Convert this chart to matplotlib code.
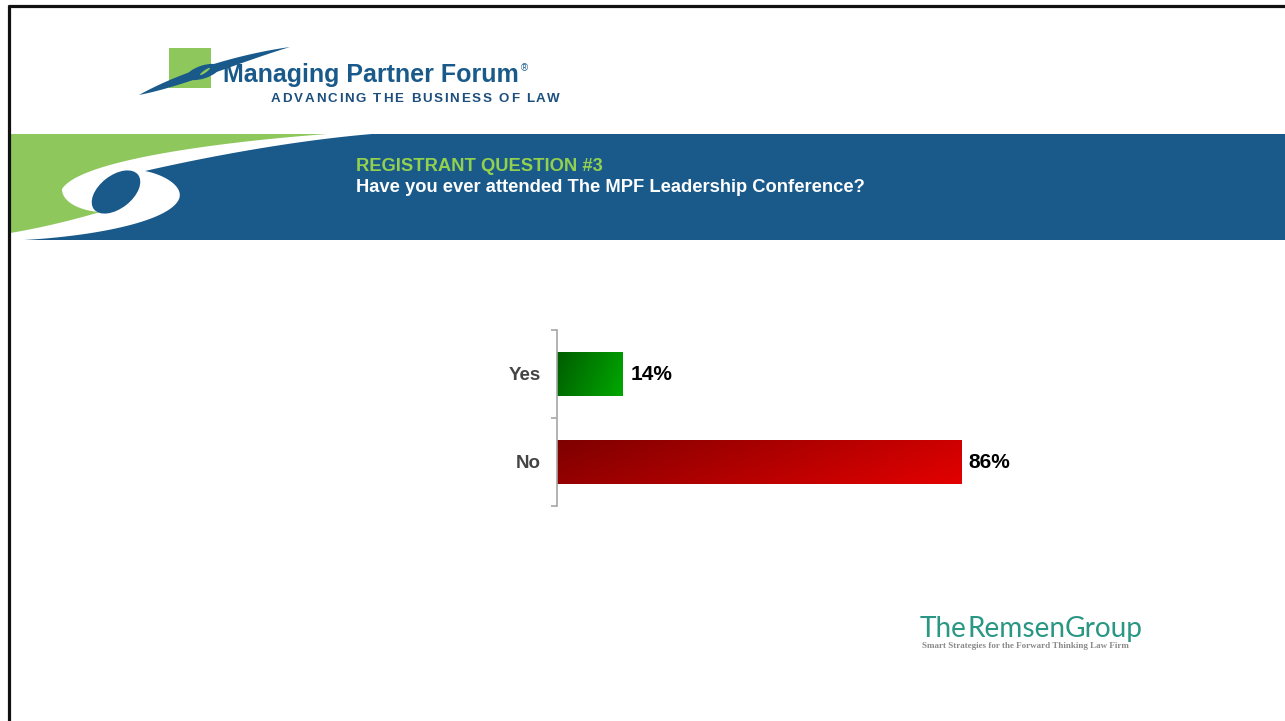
import numpy as np
import matplotlib
matplotlib.use("Agg")
import matplotlib.pyplot as plt
from matplotlib.colors import LinearSegmentedColormap
from matplotlib.patches import Polygon, Rectangle, Ellipse
from matplotlib.font_manager import FontProperties, findfont, get_font
from matplotlib.ft2font import LOAD_NO_HINTING

plt.rcParams['font.family'] = ['Liberation Sans', 'DejaVu Sans']

# ---- survey data ----
categories = ['Yes', 'No']
percent = [14, 86]
bar_gradients = [('#005c00', '#00a800'), ('#7e0000', '#e30000')]

question_tag = 'REGISTRANT QUESTION #3'
question_text = 'Have you ever attended The MPF Leadership Conference?'

W, H = 1285, 721
BLUE = '#195a8a'
LIME = '#8ec85c'

fig = plt.figure(figsize=(W / 100, H / 100), dpi=100)
fig.patch.set_facecolor('white')

# Full-slide canvas in pixel units (y grows downward)
bg = fig.add_axes([0, 0, 1, 1], zorder=0)
bg.set_xlim(0, W)
bg.set_ylim(H, 0)
bg.axis('off')


def cubic(p0, p1, p2, p3, n=40):
    t = np.linspace(0, 1, n)[:, None]
    p0, p1, p2, p3 = map(np.asarray, (p0, p1, p2, p3))
    return (1 - t) ** 3 * p0 + 3 * (1 - t) ** 2 * t * p1 + 3 * (1 - t) * t ** 2 * p2 + t ** 3 * p3


def advances(s, fp):
    font = get_font(findfont(fp))
    font.set_size(fp.get_size_in_points(), 100)
    out = []
    for ch in s:
        g = font.load_char(ord(ch), flags=LOAD_NO_HINTING)
        out.append(g.linearHoriAdvance / 65536)
    return np.array(out)


def fit_size(s, target_px, **fpkw):
    fp = FontProperties(size=10, **fpkw)
    return 10 * target_px / advances(s, fp).sum()


def tracked(x0, y, s, width_px, size, color, **fpkw):
    fp = FontProperties(size=size, **fpkw)
    adv = advances(s, fp)
    track = (width_px - adv.sum()) / (len(s) - 1)
    x = x0
    for ch, a in zip(s, adv):
        if ch != ' ':
            bg.text(x, y, ch, fontproperties=fp, color=color, ha='left', va='baseline')
        x += a + track


# ---- slide frame ----
bg.plot([8, W], [5.5, 5.5], color='#111111', lw=2.3, solid_capstyle='butt', zorder=10)
bg.plot([9, 9], [5, H], color='#111111', lw=2.3, solid_capstyle='butt', zorder=10)

# ---- top logo ----
bg.add_patch(Rectangle((169, 48), 42, 40, facecolor=LIME, edgecolor='none', zorder=2))
swoosh = np.vstack([
    cubic((139, 95), (185, 86), (240, 62), (290, 47)),
    cubic((290, 47), (240, 54), (182, 71), (139, 95)),
])
bg.add_patch(Polygon(swoosh, closed=True, facecolor=BLUE, edgecolor='none', zorder=3))
bg.add_patch(Ellipse((203, 72), 34, 13, angle=-18, facecolor=BLUE, edgecolor='none', zorder=3))
bg.add_patch(Ellipse((205, 71.5), 12, 2.5, angle=-35, facecolor=LIME, edgecolor='none', zorder=3))

bg.text(223, 82, 'Managing Partner Forum', fontsize=18, fontweight='bold', color=BLUE,
        ha='left', va='baseline', zorder=4)
bg.text(521, 71, '®', fontsize=7, color=BLUE, ha='left', va='baseline', zorder=4)
tracked(271, 102, 'ADVANCING THE BUSINESS OF LAW', 289, 9.6, '#1d4f7e',
        family=['Liberation Sans'], weight='bold')

# ---- banner ----
bg.add_patch(Rectangle((10, 134), W - 10, 106, facecolor=BLUE, edgecolor='none', zorder=1))

A, T, B, C = (327, 134), (62, 189), (100, 212), (10, 233)
E, R, F, G = (24, 240), (178, 201), (145, 171), (372, 134)
s1 = cubic(A, (220, 142), (80, 160), T)
s2 = cubic(T, (62, 203), (82, 211), B)
s3 = cubic(B, (70, 221), (35, 229), C)
s4 = cubic(E, (95, 236), (165, 222), R)
s5 = cubic(R, (186, 188), (166, 175), F)
s6 = cubic(F, (215, 155), (300, 140), G)

green_pts = np.vstack([[(10, 134), (345, 134)], s1 + [2, 3], s2 + [4, 0], s3 + [0, 2], [(10, 235)]])
bg.add_patch(Polygon(green_pts, closed=True, facecolor=LIME, edgecolor='none', zorder=2))
white_pts = np.vstack([s1, s2, s3, [(10, 240)], s4, s5, s6])
bg.add_patch(Polygon(white_pts, closed=True, facecolor='white', edgecolor='none', zorder=3))
bg.add_patch(Ellipse((116, 192), 56, 33, angle=-38, facecolor=BLUE, edgecolor='none', zorder=4))

bg.text(356, 171, question_tag, fontsize=13.2, fontweight='bold', color='#92d050',
        ha='left', va='baseline', zorder=5)
bg.text(356, 192, question_text, fontsize=13.2, fontweight='bold', color='white',
        ha='left', va='baseline', zorder=5)

# ---- footer logo ----
teal = '#2a9684'
pieces = [('The', 'normal'), ('Remsen', 'normal'), ('Group', 'normal')]
widths10 = []
for txt, wt in pieces:
    widths10.append(advances(txt, FontProperties(family=['Lato'], weight=wt, size=10)).sum())
rs = 10 * 223 / sum(widths10)
x = 920
for (txt, wt), w10 in zip(pieces, widths10):
    fp = FontProperties(family=['Lato'], weight=wt, size=rs)
    bg.text(x, 637, txt, fontproperties=fp, color=teal, ha='left', va='baseline', zorder=5)
    x += w10 * rs / 10
tag = 'Smart Strategies for the Forward Thinking Law Firm'
ts = fit_size(tag, 208, family=['Liberation Serif'], weight='bold')
bg.text(922, 648, tag, fontsize=ts, fontweight='bold', family=['Liberation Serif'],
        color='#8a8a8a', ha='left', va='baseline', zorder=5)

# ---- bar chart ----
ax = fig.add_axes([557 / W, (H - 506) / H, 470 / W, 176 / H], zorder=2)
ax.patch.set_alpha(0)
pos = np.arange(len(categories))
bar_h = 0.51
bars = ax.barh(pos, percent, height=bar_h, facecolor='none', edgecolor='none')

ny, nx = 40, 200
yy, xx = np.mgrid[0:1:ny * 1j, 0:1:nx * 1j]
grad = 0.78 * xx + 0.22 * yy
for rect, p, v, (c0, c1) in zip(bars, pos, percent, bar_gradients):
    cmap = LinearSegmentedColormap.from_list('g', [c0, c1])
    im = ax.imshow(grad, cmap=cmap, aspect='auto', origin='upper',
                   extent=(0, v, p + bar_h / 2, p - bar_h / 2), interpolation='bilinear')
    im.set_clip_path(rect)
    ax.annotate(f'{v}%', xy=(v, p), xytext=(5.5, 0), textcoords='offset points',
                ha='left', va='center', fontsize=15, fontweight='bold', color='black')

ax.set_xlim(0, 100)
ax.set_ylim(len(categories) - 0.5, -0.5)
ax.set_yticks(pos)
ax.set_yticklabels(categories, fontsize=13.5, fontweight='bold', color='#444444')
ax.set_yticks(np.arange(len(categories) + 1) - 0.5, minor=True)
ax.tick_params(axis='y', which='major', length=0, pad=11.5)
ax.tick_params(axis='y', which='minor', length=4.5, width=1.2, color='#a6a6a6', direction='out')
ax.set_xticks([])
for side in ('top', 'right', 'bottom'):
    ax.spines[side].set_visible(False)
ax.spines['left'].set_color('#a6a6a6')
ax.spines['left'].set_linewidth(1.2)

fig.savefig('out.png', dpi=100)
